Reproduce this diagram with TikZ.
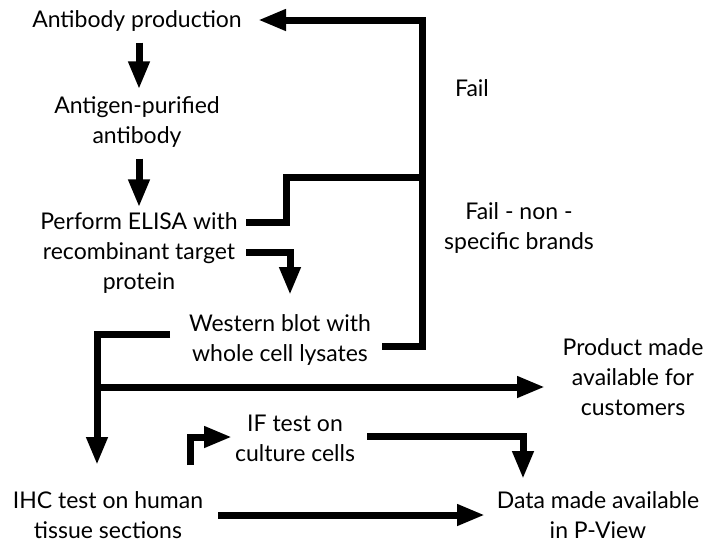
\documentclass[tikz,border=0pt]{standalone}
\usepackage{fontspec}
\setmainfont{Lato}
\usetikzlibrary{arrows.meta}

\begin{document}
\begin{tikzpicture}[x=1pt, y=-1pt,
  txt/.style={align=center, inner sep=0pt, font=\fontsize{23}{30}\selectfont},
  link/.style={line width=7pt, line join=miter},
  flow/.style={link, -{Triangle[length=28pt,width=20pt]}}]

  % Canvas
  \fill[white] (0,0) rectangle (707,544);
  \useasboundingbox (0,0) rectangle (707,544);

  % Steps
  \node[txt] (prod) at (137,21) {Antibody production};
  \node[txt] (purif) at (137,122) {Antigen-purified\\antibody};
  \node[txt] (elisa) at (139,253) {Perform ELISA with\\recombinant target\\protein};
  \node[txt] (western) at (280,340) {Western blot with\\whole cell lysates};
  \node[txt] (product) at (633,377) {Product made\\available for\\customers};
  \node[txt] (iftest) at (295,438) {IF test on\\culture cells};
  \node[txt] (ihc) at (108,515) {IHC test on human\\tissue sections};
  \node[txt] (data) at (598,515) {Data made available\\in P-View};

  % Labels
  \node[txt] (fail) at (472,88) {Fail};
  \node[txt] (nonspec) at (519,228) {Fail - non -\\specific brands};

  % Junctions
  \coordinate (failtop) at (422.5,20);
  \coordinate (failbot) at (422.5,346);
  \coordinate (elisaA) at (246,222);
  \coordinate (elisaB) at (246,252);
  \coordinate (westA) at (170,334);
  \coordinate (westB) at (382,346);
  \coordinate (branch) at (97,387);
  \coordinate (ifin) at (190,465);
  \coordinate (ifout) at (367,436.5);
  \coordinate (ihcout) at (218,515);

  % Main line
  \draw[flow] (prod.south) ++(2,11) -- ([xshift=2pt, yshift=7pt]purif.north);
  \draw[flow] (purif.south) ++(2,11) -- ([xshift=0pt, yshift=5pt]elisa.north);
  \draw[flow] (elisaB) -- (290,252) -- (290,295);
  \draw[flow] (westA) -- (97,334) -- (97,465);
  \draw[flow] (branch) -- (545,387);
  \draw[flow] (ifin) -- (190,437) -- (232,437);
  \draw[flow] (ifout) -- (523,436.5) -- (523,479);
  \draw[flow] (ihcout) -- (485,515);

  % Fail loop
  \draw[link] (elisaA) -- (286,222) -- (286,177) -- (failbot |- 0,177);
  \draw[flow] (westB) -- (failbot) -- (failtop) -- (258,20);

\end{tikzpicture}
\end{document}
